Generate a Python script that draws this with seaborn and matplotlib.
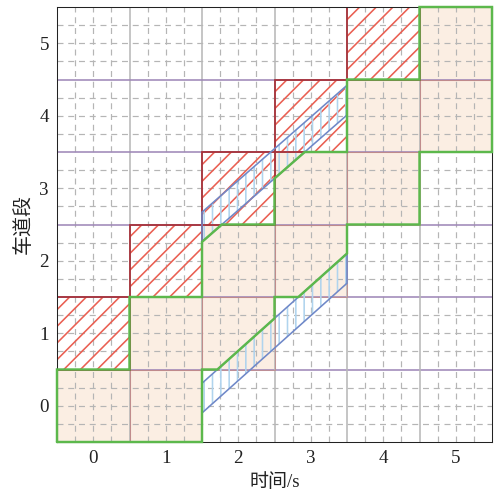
import numpy as np
import seaborn as sns
import matplotlib.pyplot as plt
from matplotlib.patches import Rectangle, Polygon

# 坐标刻度
time_ticks = [0, 1, 2, 3, 4, 5]
lane_ticks = [0, 1, 2, 3, 4, 5]

# 空闲(浅橙色)单元格: 时间, 车道段
free_t = [0, 1, 1, 2, 2, 3, 3, 4, 4, 5, 5]
free_lane = [0, 0, 1, 1, 2, 2, 3, 3, 4, 4, 5]

# 占用(红色斜线)单元格
busy_t = [0, 1, 2, 3, 4]
busy_lane = [1, 2, 3, 4, 5]

# 车辆轨迹: 起止时间, 车头起止位置, 车身长度
traj_t0 = [1.5, 1.5]
traj_t1 = [3.5, 3.5]
traj_head0 = [0.31, 2.67]
traj_head1 = [2.1, 4.42]
traj_len = [0.41, 0.41]


def set_config():
    sns.set_theme(style="white")
    plt.rcParams["font.family"] = ["Liberation Serif", "Noto Sans CJK SC"]
    plt.rcParams["axes.unicode_minus"] = False
    plt.rcParams["hatch.linewidth"] = 1.15


def head_t(k, y):
    # 车头到达位置 y 的时间
    return np.interp(y, [traj_head0[k], traj_head1[k]], [traj_t0[k], traj_t1[k]])


def head_y(k, t):
    return np.interp(t, [traj_t0[k], traj_t1[k]], [traj_head0[k], traj_head1[k]])


def main():
    set_config()
    fig = plt.figure(figsize=(4.99, 4.96), dpi=100)
    ax = fig.add_axes([57 / 499, 1 - 442 / 496, 435 / 499, 435 / 496])
    ax.set_xlim(-0.5, 5.5)
    ax.set_ylim(-0.5, 5.5)

    # 空闲单元格底色
    for t, l in zip(free_t, free_lane):
        ax.add_patch(Rectangle((t - 0.5, l - 0.5), 1, 1, facecolor="#fbeee3",
                               edgecolor="none", zorder=0))

    # 网格线
    for v in np.arange(-0.25, 5.5, 0.25):
        if abs((v - 0.5) % 1) < 1e-6:
            continue
        ax.axvline(v, color="#b5b5b5", lw=0.86, ls=(0, (5, 4)), zorder=1)
        ax.axhline(v, color="#b5b5b5", lw=0.86, ls=(0, (5, 4)), zorder=1)
    for v in np.arange(0.5, 5.5, 1):
        ax.axvline(v, color="#b8b8b8", lw=1.15, zorder=1)
        ax.axhline(v, color="#9f88b8", lw=1.15, zorder=1)

    # 空闲单元格边框
    for t, l in zip(free_t, free_lane):
        ax.add_patch(Rectangle((t - 0.5, l - 0.5), 1, 1, fill=False,
                               edgecolor="#c08a8a", lw=0.75, alpha=0.8, zorder=2))

    # 占用单元格
    for t, l in zip(busy_t, busy_lane):
        ax.add_patch(Rectangle((t - 0.5, l - 0.5), 1, 1, fill=False, hatch="//",
                               edgecolor="#ea5f52", lw=0, zorder=3))
        ax.add_patch(Rectangle((t - 0.5, l - 0.5), 1, 1, fill=False,
                               edgecolor="#a8323a", lw=1.3, zorder=4))

    # 车辆轨迹
    for k in range(len(traj_t0)):
        pts = [(traj_t0[k], traj_head0[k]), (traj_t1[k], traj_head1[k]),
               (traj_t1[k], traj_head1[k] - traj_len[k]),
               (traj_t0[k], traj_head0[k] - traj_len[k])]
        ax.add_patch(Polygon(pts, closed=True, fill=False, hatch="||",
                             edgecolor="#b0d4ee", lw=0, zorder=3))
        ax.add_patch(Polygon(pts, closed=True, fill=False,
                             edgecolor="#6f88c8", lw=1.15, zorder=4))

    # 空闲区域外轮廓
    L = traj_len[1]
    edge_t = [-0.5, 1.5, 1.5, head_t(0, 0.5), 2.5, 2.5, head_t(0, 1.5), 3.5, 3.5, 4.5,
              4.5, 5.5, 5.5, 4.5, 4.5, 3.5, 3.5, head_t(1, 3.5 + L), 2.5, 2.5,
              head_t(1, 2.5 + L), 1.5, 1.5, 0.5, 0.5, -0.5, -0.5]
    edge_lane = [-0.5, -0.5, 0.5, 0.5, head_y(0, 2.5), 1.5, 1.5, head_y(0, 3.5), 2.5, 2.5,
                 3.5, 3.5, 5.5, 5.5, 4.5, 4.5, 3.5, 3.5, head_y(1, 2.5) - L, 2.5,
                 2.5, head_y(1, 1.5) - L, 1.5, 1.5, 0.5, 0.5, -0.5]
    ax.plot(edge_t, edge_lane, color="#5cb84c", lw=1.75, zorder=6, clip_on=False,
            solid_joinstyle="miter")

    for s in ax.spines.values():
        s.set_color("#222222")
        s.set_linewidth(0.75)
        s.set_zorder(5)

    ax.set_xticks(time_ticks)
    ax.set_yticks(lane_ticks)
    ax.tick_params(length=0, pad=5.8, labelsize=13.7, colors="#222222")
    ax.set_xlabel("时间/s", fontsize=13.7, labelpad=4.3, color="#222222")
    ax.set_ylabel("车道段", fontsize=14.4, labelpad=4.3, color="#222222")

    fig.savefig("out.png", dpi=100)


if __name__ == "__main__":
    main()
